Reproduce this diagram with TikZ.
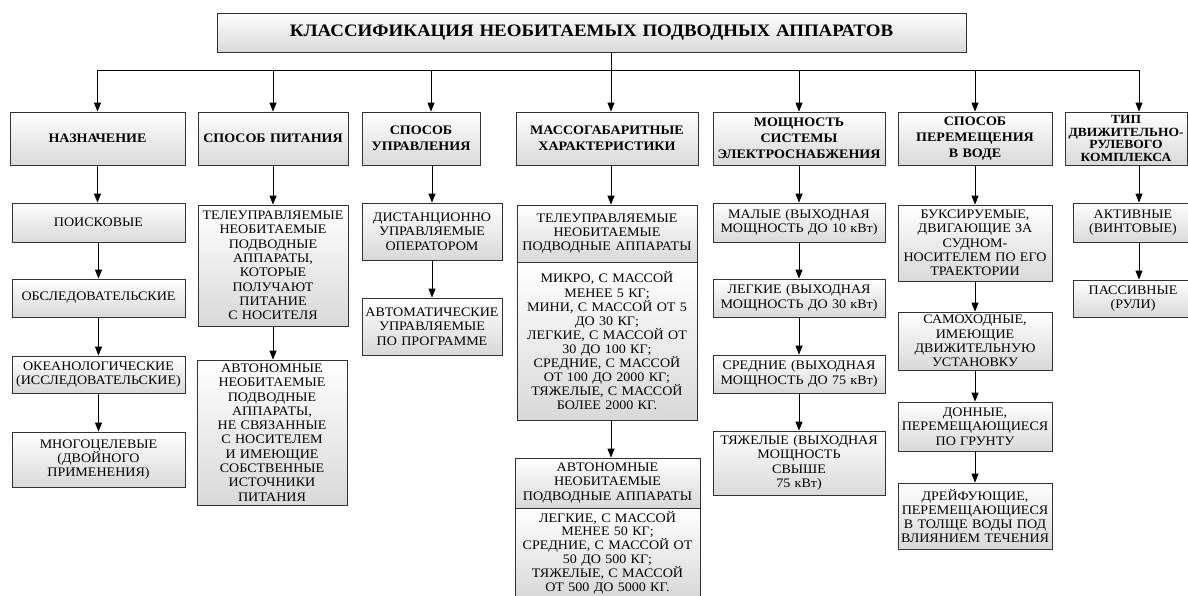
\documentclass[tikz,border=0pt]{standalone}
\usepackage{fontspec}
\setmainfont{Liberation Serif}[FakeStretch=1.08]
\usetikzlibrary{arrows.meta}
\tikzset{
  x=1pt,y=-1pt,
  nbox/.style={draw=black!80, line width=0.8pt, top color=white, bottom color=black!15,
    align=center, inner sep=1pt, font=\fontsize{13}{14.3}\selectfont},
  cbox/.style={nbox, font=\fontsize{13}{16}\selectfont\bfseries},
  arr/.style={draw=black, line width=0.8pt, -{Triangle[length=9pt,width=7pt]}},
  bus/.style={draw=black, line width=0.8pt}
}
\begin{document}
\begin{tikzpicture}
\useasboundingbox (0,0) rectangle (1188,595);
\clip (0,0) rectangle (1188,595);
% title
\node[cbox, font=\fontsize{17.5}{20}\selectfont\bfseries, minimum width=749, text width=745, minimum height=39] (title) at (591.5,32.5) {КЛАССИФИКАЦИЯ НЕОБИТАЕМЫХ ПОДВОДНЫХ АППАРАТОВ};
% categories
\node[cbox, minimum width=175, text width=171, minimum height=53] (cat1) at (97.5,138.5) {НАЗНАЧЕНИЕ};
\node[cbox, minimum width=150, text width=146, minimum height=53] (cat2) at (273,138.5) {СПОСОБ ПИТАНИЯ};
\node[cbox, minimum width=118, text width=114, minimum height=53] (cat3) at (421,138.5) {СПОСОБ\\УПРАВЛЕНИЯ};
\node[cbox, minimum width=182, text width=178, minimum height=53] (cat4) at (607,138.5) {МАССОГАБАРИТНЫЕ\\ХАРАКТЕРИСТИКИ};
\node[cbox, minimum width=172, text width=168, minimum height=53] (cat5) at (799,138.5) {МОЩНОСТЬ\\СИСТЕМЫ\\ЭЛЕКТРОСНАБЖЕНИЯ};
\node[cbox, minimum width=154, text width=150, minimum height=53] (cat6) at (975,138.5) {СПОСОБ\\ПЕРЕМЕЩЕНИЯ\\В ВОДЕ};
\node[cbox, font=\fontsize{12.5}{12.8}\selectfont\bfseries, minimum width=122, text width=118, minimum height=53] (cat7) at (1126,138.5) {ТИП\\ДВИЖИТЕЛЬНО-\\РУЛЕВОГО\\КОМПЛЕКСА};
% column 1
\node[nbox, minimum width=173, text width=169, minimum height=39] (p1) at (98.5,222.5) {ПОИСКОВЫЕ};
\node[nbox, minimum width=173, text width=169, minimum height=38] (p2) at (98.5,298) {ОБСЛЕДОВАТЕЛЬСКИЕ};
\node[nbox, minimum width=173, text width=169, minimum height=37] (p3) at (98.5,374.5) {ОКЕАНОЛОГИЧЕСКИЕ\\(ИССЛЕДОВАТЕЛЬСКИЕ)};
\node[nbox, minimum width=173, text width=169, minimum height=55] (p4) at (98.5,459.5) {МНОГОЦЕЛЕВЫЕ\\(ДВОЙНОГО\\ПРИМЕНЕНИЯ)};
% column 2
\node[nbox, minimum width=150, text width=146, minimum height=121] (s1) at (273,265.5) {ТЕЛЕУПРАВЛЯЕМЫЕ\\НЕОБИТАЕМЫЕ\\ПОДВОДНЫЕ\\АППАРАТЫ,\\КОТОРЫЕ\\ПОЛУЧАЮТ\\ПИТАНИЕ\\С НОСИТЕЛЯ};
\node[nbox, minimum width=150, text width=146, minimum height=145] (s2) at (272,432.5) {АВТОНОМНЫЕ\\НЕОБИТАЕМЫЕ\\ПОДВОДНЫЕ\\АППАРАТЫ,\\НЕ СВЯЗАННЫЕ\\С НОСИТЕЛЕМ\\И ИМЕЮЩИЕ\\СОБСТВЕННЫЕ\\ИСТОЧНИКИ\\ПИТАНИЯ};
% column 3
\node[nbox, minimum width=140, text width=136, minimum height=57] (u1) at (432,231.5) {ДИСТАНЦИОННО\\УПРАВЛЯЕМЫЕ\\ОПЕРАТОРОМ};
\node[nbox, minimum width=140, text width=136, minimum height=57] (u2) at (432,326.5) {АВТОМАТИЧЕСКИЕ\\УПРАВЛЯЕМЫЕ\\ПО ПРОГРАММЕ};
% column 4
\node[nbox, minimum width=180, text width=176, minimum height=57] (m1h) at (607,233.5) {ТЕЛЕУПРАВЛЯЕМЫЕ\\НЕОБИТАЕМЫЕ\\ПОДВОДНЫЕ АППАРАТЫ};
\node[nbox, font=\fontsize{13}{14.1}\selectfont, minimum width=180, text width=176, minimum height=158] (m1d) at (607,341) {МИКРО, С МАССОЙ\\МЕНЕЕ 5 КГ;\\МИНИ, С МАССОЙ ОТ 5\\ДО 30 КГ;\\ЛЕГКИЕ, С МАССОЙ ОТ\\30 ДО 100 КГ;\\СРЕДНИЕ, С МАССОЙ\\ОТ 100 ДО 2000 КГ;\\ТЯЖЕЛЫЕ, С МАССОЙ\\БОЛЕЕ 2000 КГ.};
\node[nbox, minimum width=185, text width=181, minimum height=50] (m2h) at (607.5,483) {АВТОНОМНЫЕ\\НЕОБИТАЕМЫЕ\\ПОДВОДНЫЕ АППАРАТЫ};
\node[nbox, font=\fontsize{13}{13.8}\selectfont, minimum width=185, text width=181, minimum height=89] (m2d) at (607.5,552.5) {ЛЕГКИЕ, С МАССОЙ\\МЕНЕЕ 50 КГ;\\СРЕДНИЕ, С МАССОЙ ОТ\\50 ДО 500 КГ;\\ТЯЖЕЛЫЕ, С МАССОЙ\\ОТ 500 ДО 5000 КГ.};
% column 5
\node[nbox, minimum width=172, text width=168, minimum height=39] (e1) at (799,222.5) {МАЛЫЕ (ВЫХОДНАЯ\\МОЩНОСТЬ ДО 10 кВт)};
\node[nbox, minimum width=172, text width=168, minimum height=38] (e2) at (799,298) {ЛЕГКИЕ (ВЫХОДНАЯ\\МОЩНОСТЬ ДО 30 кВт)};
\node[nbox, minimum width=172, text width=168, minimum height=38] (e3) at (799,374) {СРЕДНИЕ (ВЫХОДНАЯ\\МОЩНОСТЬ ДО 75 кВт)};
\node[nbox, minimum width=172, text width=168, minimum height=64] (e4) at (799,463) {ТЯЖЕЛЫЕ (ВЫХОДНАЯ\\МОЩНОСТЬ\\СВЫШЕ\\75 кВт)};
% column 6
\node[nbox, minimum width=154, text width=150, minimum height=76] (d1) at (975,243) {БУКСИРУЕМЫЕ,\\ДВИГАЮЩИЕ ЗА\\СУДНОМ-\\НОСИТЕЛЕМ ПО ЕГО\\ТРАЕКТОРИИ};
\node[nbox, minimum width=154, text width=150, minimum height=58] (d2) at (975,341) {САМОХОДНЫЕ,\\ИМЕЮЩИЕ\\ДВИЖИТЕЛЬНУЮ\\УСТАНОВКУ};
\node[nbox, minimum width=154, text width=150, minimum height=49] (d3) at (975,426.5) {ДОННЫЕ,\\ПЕРЕМЕЩАЮЩИЕСЯ\\ПО ГРУНТУ};
\node[nbox, minimum width=154, text width=150, minimum height=66] (d4) at (975,516) {ДРЕЙФУЮЩИЕ,\\ПЕРЕМЕЩАЮЩИЕСЯ\\В ТОЛЩЕ ВОДЫ ПОД\\ВЛИЯНИЕМ ТЕЧЕНИЯ};
% column 7
\node[nbox, minimum width=120, text width=116, minimum height=39] (t1) at (1133,222.5) {АКТИВНЫЕ\\(ВИНТОВЫЕ)};
\node[nbox, minimum width=120, text width=116, minimum height=37] (t2) at (1133,298.5) {ПАССИВНЫЕ\\(РУЛИ)};
% coordinates
\coordinate (bL) at (97.5,70);
\coordinate (bR) at (1139,70);
\coordinate (x3) at (431,0);
\coordinate (x4) at (611,0);
\coordinate (x7) at (1139,0);
% bus and top arrows
\draw[bus] (bL) -- (bR);
\draw[arr] (title.south -| x4) -- (cat4.north -| x4);
\draw[arr] (bL) -- (cat1.north);
\draw[arr] (cat2.north |- bL) -- (cat2.north);
\draw[arr] (x3 |- bL) -- (x3 |- cat3.north);
\draw[arr] (cat5.north |- bL) -- (cat5.north);
\draw[arr] (cat6.north |- bL) -- (cat6.north);
\draw[arr] (bR) -- (x7 |- cat7.north);
% column arrows
\draw[arr] (cat1.south) -- (cat1.south |- p1.north);
\draw[arr] (p1) -- (p2);
\draw[arr] (p2) -- (p3);
\draw[arr] (p3) -- (p4);
\draw[arr] (cat2.south) -- (s1.north);
\draw[arr] (s1.south) -- (s1.south |- s2.north);
\draw[arr] (cat3.south -| u1.north) -- (u1.north);
\draw[arr] (u1) -- (u2);
\draw[arr] (cat4.south -| x4) -- (m1h.north -| x4);
\draw[arr] (m1d.south -| x4) -- (m2h.north -| x4);
\draw[arr] (cat5.south) -- (e1.north);
\draw[arr] (e1) -- (e2);
\draw[arr] (e2) -- (e3);
\draw[arr] (e3) -- (e4);
\draw[arr] (cat6.south) -- (d1.north);
\draw[arr] (d1) -- (d2);
\draw[arr] (d2) -- (d3);
\draw[arr] (d3) -- (d4);
\draw[arr] (cat7.south -| x7) -- (t1.north -| x7);
\draw[arr] (t1.south -| x7) -- (t2.north -| x7);
\end{tikzpicture}
\end{document}
